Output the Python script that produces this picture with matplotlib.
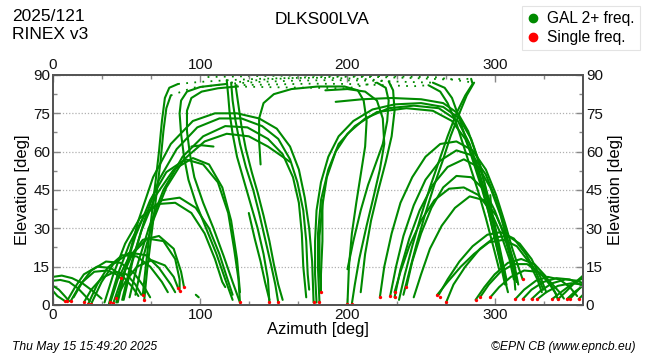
import matplotlib
matplotlib.use("Agg")
import matplotlib.pyplot as plt
from matplotlib.ticker import MultipleLocator
from matplotlib.lines import Line2D

plt.rcParams['font.family'] = ['Liberation Sans', 'DejaVu Sans']

GREEN = "#008a00"
RED = "#ff0000"

# tracks, points are (azimuth, elevation)
low_east_arcs = [
    [(0, 11), (6, 11.5), (13, 10.5), (20, 8.5), (27, 5.5), (33, 2.5)],
    [(0, 9.5), (5, 9.8), (11, 9), (17, 6.5), (22, 3.5), (25, 1.5)],
    [(0, 7.5), (4, 6), (8, 3.5), (11, 1.5)],
    [(0, 5.5), (3, 3.5), (8, 1.6)],
    [(9.5, 1.5), (15, 7), (21, 12), (30, 15), (39, 14.5), (47, 11.5), (54, 7), (58, 3.5)],
    [(12, 1.5), (18, 7.5), (26, 13.5), (36, 17), (46, 16.5), (55, 12.5), (62, 7), (66, 3)],
    [(14, 3), (20, 9), (28, 13), (37, 13.5), (43, 12), (46, 10.5)],
    [(24, 0.5), (30, 8), (37, 14.5), (47, 19.5), (57, 19), (66, 15), (74, 9), (78, 5)],
    [(26, 0.5), (33, 9), (41, 16), (52, 20.5), (63, 19.5), (72, 14.5), (80, 8), (83, 5)],
    [(39, 1), (44, 10), (51, 18), (61, 25.5), (72, 27), (82, 22), (87, 13), (89, 7)],
    [(41, 0.8), (47, 11), (54, 20), (64, 26), (75, 25), (83, 18), (86, 10), (86, 5.5)],
    [(21, 1), (26, 6), (33, 10.5), (42, 13), (50, 12), (56, 8), (60, 4)],
    [(43, 2.7), (49, 9), (57, 15), (67, 17.5), (76, 15.5), (82, 11), (85, 6.6)],
]

mid_east_arcs = [
    [(38, 0.5), (44, 12), (52, 24), (62, 35), (74, 41), (86, 42), (97, 38), (106, 30), (113, 20), (118, 11), (122, 4)],
    [(35, 1), (41, 12), (49, 24), (59, 34), (71, 39.5), (83, 40), (94, 36), (103, 28), (110, 18), (115, 9), (117, 7)],
    [(43, 1), (48, 12), (56, 27), (66, 41), (77, 52), (90, 57), (102, 55), (112, 48), (119, 36), (123, 22), (126, 10), (127, 1)],
    [(47, 2), (52, 14), (60, 29), (70, 43), (82, 53), (95, 57.5), (106, 55), (115, 46), (121, 33), (125, 18), (127, 5)],
    [(94, 62), (101, 62.5), (109, 62)],
    [(97, 4), (99, 3)],
]

arch_left = [
    [(44, 1), (50, 16), (58, 33), (68, 50), (80, 63), (95, 72), (110, 75), (125, 75), (140, 73), (152, 69),
     (161, 62), (167, 53), (171, 42), (174, 30), (176, 17), (177, 1)],
    [(48, 2), (54, 17), (62, 33), (72, 49), (84, 61), (98, 69.5), (113, 73), (128, 73), (142, 70), (153, 65),
     (161, 57), (166, 48), (170, 37), (172, 25), (173, 12), (174, 6)],
    [(52, 3), (57, 15), (65, 30), (75, 45), (88, 58), (102, 66), (117, 70), (132, 69.5), (146, 65), (156, 59),
     (163, 50), (167, 40), (169, 28), (170, 15), (172, 3)],
    [(56, 4), (61, 18), (68, 33), (77, 46), (89, 57), (103, 64), (118, 67), (133, 66), (146, 62), (156, 58), (161, 56)],
]

steep_high = [
    [(61, 4), (63, 15), (66, 30), (69, 45), (72, 60), (74, 72), (76, 81), (79, 85), (85, 86.5)],
    [(62, 2), (64, 14), (67, 28), (70, 42), (73, 56), (75, 68), (77, 77), (80, 82)],
    [(122, 2), (117, 10), (111, 20), (104, 30), (97, 40), (92, 49), (89, 58), (87, 67), (86, 75), (87, 80),
     (91, 83.5), (100, 85.3), (110, 86), (118, 86.5)],
    [(127, 1), (122, 9), (116, 19), (109, 30), (102, 40), (96, 50), (93, 59), (91, 68), (91, 76), (94, 81),
     (101, 83.5), (112, 84.8), (125, 85.5)],
    [(118, 88), (119, 82), (120, 75), (122, 67), (125, 58), (129, 50), (134, 40), (139, 30), (143, 20), (146, 10), (147, 1)],
    [(121, 87), (122, 80), (124, 72), (127, 63), (131, 54), (136, 45), (140, 36), (144, 26), (148, 16), (151, 8), (153, 1)],
    [(124, 86), (126, 78), (128, 70), (131, 61), (135, 52), (139, 44), (143, 35), (147, 25), (150, 16), (153, 8), (156, 2)],
    [(133, 36), (137, 26), (141, 17), (144, 9), (147, 2)],
    [(141, 55), (140, 64), (140, 73), (143, 79), (150, 82.5), (162, 84.5), (180, 85.5), (198, 85.5), (207, 84),
     (211, 80), (213, 72), (212, 62), (209, 51), (206, 40), (203, 28), (201, 15), (200, 0.5)],
    [(185, 84), (200, 84.5), (212, 83.5), (220, 80), (224, 73), (225, 63), (222, 53), (218, 43), (213, 31),
     (208, 18), (205, 8), (203, 0.5)],
    [(228, 87.5), (231, 84), (232, 76), (230, 66), (226, 56), (221, 45), (216, 33), (212, 20), (210, 10), (209, 5)],
    [(200, 14), (204, 25), (209, 37), (214, 47), (219, 55), (224, 63), (227, 72), (228, 80), (226, 85), (220, 87)],
    [(183, 41), (183, 25), (182, 12), (182, 5)],
    [(297, 43), (298, 34)],
]

arch_right = [
    [(179, 1), (178, 12), (178, 25), (179, 37), (182, 48), (187, 58), (194, 66), (204, 72), (217, 76.5), (232, 78.5),
     (250, 79), (265, 77.5), (276, 73), (284, 65), (290, 55), (294, 45), (298, 35), (302, 25), (305, 16), (308, 8)],
    [(181, 1), (180, 14), (180, 28), (182, 41), (187, 53), (194, 63), (205, 70), (220, 75.5), (240, 77), (258, 76),
     (271, 72), (280, 65), (287, 55), (292, 45), (296, 36), (301, 24), (306, 12), (309, 5)],
    [(182, 5), (181, 15), (181, 27), (183, 39), (186, 50), (192, 60), (200, 67), (212, 73), (228, 77), (245, 78),
     (262, 77), (275, 72), (283, 63), (289, 53), (294, 43), (299, 32), (303, 22), (307, 12)],
    [(192, 79.5), (210, 80.5), (230, 81), (250, 80.5), (265, 79), (275, 75), (282, 68), (288, 58), (293, 48),
     (297, 39), (301, 29), (305, 18), (308, 10)],
]

west_arcs = [
    [(222, 3), (225, 15), (230, 28), (236, 40), (244, 50), (253, 58), (263, 63), (274, 64), (285, 60.5), (294, 53),
     (301, 43), (307, 32), (312, 22), (316, 15), (319, 10)],
    [(229, 3.5), (233, 15), (238, 27), (245, 39), (253, 49), (263, 56.5), (274, 60.5), (285, 58.5), (294, 51),
     (301, 41), (307, 30), (312, 18), (315, 9)],
    [(232, 3), (236, 14), (242, 26), (249, 37), (258, 47), (268, 54), (279, 57), (289, 54), (297, 46), (304, 35),
     (309, 24), (313, 13), (314, 6)],
    [(240, 7), (244, 17), (250, 28), (257, 38), (265, 46), (274, 50.5), (284, 50), (293, 45), (300, 37), (306, 28),
     (311, 18), (315, 9)],
    [(232, 5), (236, 13), (242, 23), (250, 33), (259, 41), (269, 45.5), (279, 46), (289, 43), (297, 37), (304, 28),
     (310, 18), (313, 10)],
    [(245, 3), (250, 12), (256, 22), (264, 31), (273, 38), (283, 42.5), (293, 41), (301, 35), (308, 26), (313, 17), (316, 8)],
    [(235, 2), (239, 12), (244, 23), (250, 35), (256, 46), (262, 56), (268, 66), (274, 75), (280, 82), (285, 86.5), (284, 88.5)],
    [(238, 4), (242, 13), (247, 24), (253, 36), (259, 47), (265, 57), (270, 66), (276, 75), (281, 82), (286, 87)],
    [(258, 87), (266, 85), (271, 81), (276, 73), (281, 64), (286, 55), (291, 46), (296, 36), (300, 26), (304, 16), (307, 8)],
    [(255, 86), (263, 83.5), (268, 79), (274, 71), (279, 62), (284, 53), (289, 44), (294, 34), (299, 23), (303, 14)],
]

low_west_arcs = [
    [(262, 4), (268, 10), (276, 17), (285, 23), (295, 27.5), (304, 28.5), (313, 26), (321, 20), (328, 13), (333, 6)],
    [(267, 1), (272, 8), (280, 15), (290, 22), (300, 26.5), (309, 27), (317, 24), (325, 18), (331, 11), (335, 5)],
    [(261, 4), (268, 9), (277, 15), (286, 20), (296, 24.5), (306, 25.5), (315, 23), (323, 17), (329, 10), (332, 5)],
    [(287, 2), (293, 7), (300, 12), (309, 16.5), (318, 18), (327, 16), (335, 11), (341, 5), (343, 2)],
    [(290, 3), (296, 8), (304, 13), (313, 16), (322, 16), (331, 12.5), (338, 7.5), (342, 4)],
    [(297, 3), (303, 7), (311, 11), (320, 13.5), (329, 13), (337, 9.5), (344, 5), (347, 2.5)],
    [(314, 2.3), (320, 6), (328, 9.5), (336, 11), (344, 10), (351, 7), (356, 3.5)],
    [(319, 2.3), (325, 6), (333, 9), (342, 10.5), (351, 10), (358, 8), (360, 7)],
    [(325, 2.3), (331, 5.5), (339, 8.5), (348, 10), (356, 9.5), (360, 8.5)],
    [(329, 2.3), (335, 5), (343, 7.5), (352, 8.5), (360, 8)],
    [(339, 2.3), (345, 5), (352, 8), (360, 10.5)],
    [(343, 2.3), (348, 5), (354, 8.5), (360, 11.5)],
    [(349, 2.3), (354, 5), (360, 7.5)],
    [(351, 2.3), (356, 5.5), (360, 8)],
    [(357, 2.3), (360, 4)],
]

# near-zenith passes, sparse samples
zenith_passes = [
    [(85, 86.5), (100, 87.3), (120, 88), (140, 88.5), (160, 88.8), (180, 88.9), (200, 88.7), (215, 88.3), (228, 87.5)],
    [(80, 82), (95, 85), (118, 86.5), (140, 87.3), (165, 87.8), (190, 88), (215, 87.8), (240, 87.3), (258, 87)],
    [(121, 87), (145, 88.3), (170, 89), (195, 89.3), (220, 89.2), (245, 88.8), (265, 88.3), (284, 88.5)],
    [(124, 86), (150, 86.3), (175, 86.6), (200, 86.5), (225, 86), (245, 85.6), (255, 86)],
    [(105, 89.2), (140, 89.6), (170, 89.8), (200, 89.7), (230, 89.5), (260, 89.1), (286, 87)],
    [(125, 85.5), (150, 85.2), (175, 85), (200, 84.8), (220, 87)],
]

single_az = [8, 9.5, 12, 21, 24, 26, 39, 41, 43, 46, 61, 62, 85, 86, 89,
             127, 147, 153, 177, 181, 182,
             200, 203, 222, 229, 232, 232, 240, 261, 263, 267, 287, 290, 297,
             314, 319, 319, 325, 329, 339, 343, 349, 351, 357]
single_el = [1.6, 1.5, 1.5, 1, 0.5, 0.5, 1, 0.8, 2.7, 10.5, 4, 2, 6.6, 5.5, 7,
             1, 1, 1, 1, 1, 5,
             0.5, 0.5, 3, 3.5, 3, 5, 7, 4, 3, 1, 2, 3, 3,
             2.3, 2.3, 10, 2.3, 2.3, 2.3, 2.3, 2.3, 2.3, 2.3]

fig = plt.figure(figsize=(6.5, 3.6), dpi=100)
ax = fig.add_axes([0.0815, 0.1528, 0.8155, 0.6389])

for group in (low_east_arcs, mid_east_arcs, arch_left, steep_high, arch_right, west_arcs, low_west_arcs):
    for trk in group:
        az, el = zip(*trk)
        ax.plot(az, el, color=GREEN, lw=1.5, solid_capstyle='round', solid_joinstyle='round', zorder=2)

for trk in zenith_passes:
    az, el = zip(*trk)
    ax.plot(az, el, color=GREEN, lw=1.3, linestyle=(0, (1, 3.5)), zorder=2)

ax.plot(single_az, single_el, 'o', color=RED, ms=2.4, mec='none', zorder=3)

ax.set_xlim(0, 360)
ax.set_ylim(0, 90)
ax.yaxis.grid(True, which='major', linestyle=(0, (1, 1.5)), color='#b0b0b0', lw=0.9)
ax.set_axisbelow(True)

axt = ax.twiny()
axr = ax.twinx()
axt.set_xlim(0, 360)
axr.set_ylim(0, 90)

for a in (ax, axt):
    a.xaxis.set_major_locator(MultipleLocator(100))
    a.xaxis.set_minor_locator(MultipleLocator(100 / 3))
for a in (ax, axr):
    a.yaxis.set_major_locator(MultipleLocator(15))
    a.yaxis.set_minor_locator(MultipleLocator(7.5))

for a in (ax, axt, axr):
    a.tick_params(which='major', direction='in', length=5, width=1, color='#888888',
                  labelsize=11, pad=2, labelcolor='#111111')
    a.tick_params(which='minor', direction='in', length=3, width=1, color='#888888')
    for sp in a.spines.values():
        sp.set_color('#555555')
        sp.set_linewidth(1.4)

ax.set_xlabel("Azimuth [deg]", fontsize=12, labelpad=0)
ax.set_ylabel("Elevation [deg]", fontsize=12, labelpad=2)
axr.set_ylabel("Elevation [deg]", fontsize=12, labelpad=4)

fig.text(0.018, 0.955, "2025/121", fontsize=12.5, va='center')
fig.text(0.018, 0.905, "RINEX v3", fontsize=12.5, va='center')
fig.text(0.495, 0.945, "DLKS00LVA", fontsize=12.5, ha='center', va='center')
fig.text(0.018, 0.035, "Thu May 15 15:49:20 2025", fontsize=8.7, style='italic', va='center')
fig.text(0.978, 0.035, "\u00a9EPN CB (www.epncb.eu)", fontsize=8.7, style='italic', ha='right', va='center')

handles = [Line2D([], [], ls='none', marker='o', color=GREEN, ms=6),
           Line2D([], [], ls='none', marker='o', color=RED, ms=6)]
leg = fig.legend(handles, ["GAL 2+ freq.", "Single freq."], loc='upper right',
                 bbox_to_anchor=(0.99, 0.993), fontsize=11.2, frameon=True, fancybox=False,
                 handlelength=0.8, handletextpad=0.5, borderpad=0.35, labelspacing=0.25, borderaxespad=0.2)
leg.get_frame().set_edgecolor('#dddddd')
leg.get_frame().set_linewidth(0.8)

fig.savefig("out.png", dpi=100)
